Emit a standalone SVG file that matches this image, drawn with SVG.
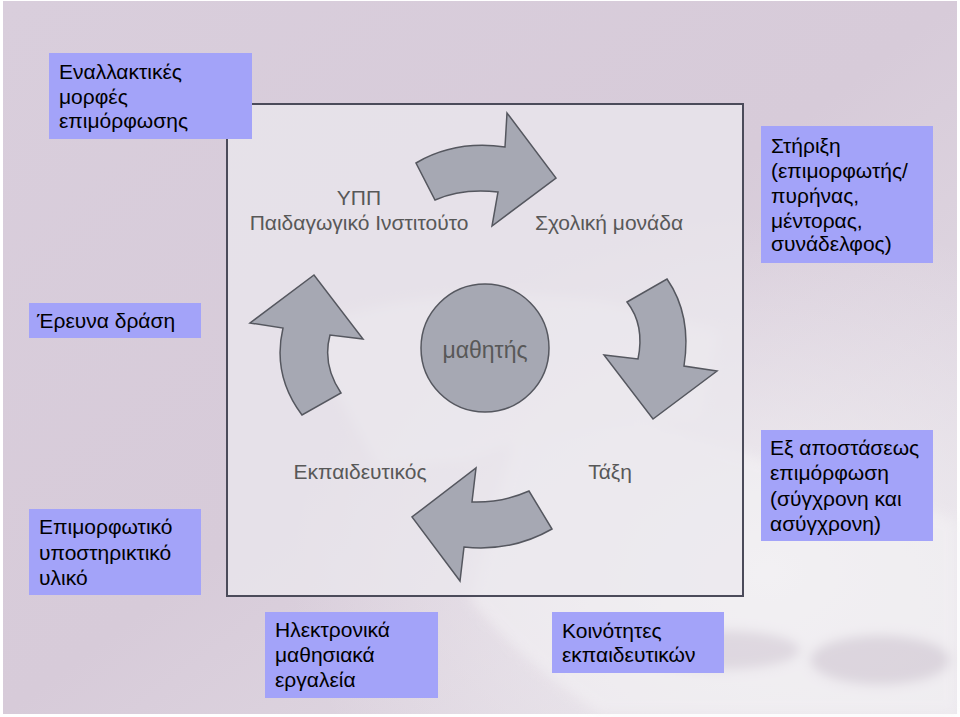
<svg xmlns="http://www.w3.org/2000/svg" width="960" height="717" viewBox="0 0 960 717">
<defs>
<linearGradient id="bg" x1="0" y1="0" x2="1" y2="1">
<stop offset="0" stop-color="#d9cedc"/>
<stop offset="0.5" stop-color="#d7cbd9"/>
<stop offset="1" stop-color="#e6e1e8"/>
</linearGradient>
<radialGradient id="glow" cx="0.8" cy="0.8" r="0.5">
<stop offset="0" stop-color="#f2f0f3" stop-opacity="0.9"/>
<stop offset="1" stop-color="#f2f0f3" stop-opacity="0"/>
</radialGradient>
<filter id="blur" x="-20%" y="-20%" width="140%" height="140%"><feGaussianBlur stdDeviation="6"/></filter>
</defs>
<style>
.box{fill:#a3a3f9}
.bt{font-family:"Liberation Sans",Arial,sans-serif;font-size:21px;fill:#000}
.gt{font-family:"Liberation Sans",Arial,sans-serif;font-size:21px;fill:#585858;text-anchor:middle}
.arr{fill:#a6a8b3;stroke:#55575f;stroke-width:1.5;stroke-linejoin:miter}
</style>
<rect x="0" y="0" width="960" height="717" fill="#ffffff"/>
<rect x="3" y="1" width="954" height="713" fill="url(#bg)"/>
<rect x="3" y="1" width="954" height="713" fill="url(#glow)"/>
<g filter="url(#blur)" opacity="0.55">
<path d="M520,420 Q600,400 700,440 L957,520 L957,714 L600,714 Q520,660 470,600 Z" fill="#f4f3f5"/>
<path d="M300,330 Q420,280 600,300 L720,330 L700,420 Q560,420 470,460 L380,470 Z" fill="#f1eff2"/>
<ellipse cx="880" cy="660" rx="70" ry="25" fill="#cfc6d1"/>
<ellipse cx="720" cy="650" rx="80" ry="20" fill="#d3cad5"/>
</g>
<g id="frame">
<rect x="227" y="104" width="516" height="492" fill="#ebe8ee" fill-opacity="0.75" stroke="#4b4b5a" stroke-width="2"/>
</g>
<g id="connectors">
<path class="arr" d="M416,163 Q455,140 505,147 L507,113 L556,178 L492,226 L498,192 Q462,188 435,200 Z"/>
<path class="arr" d="M627,302 L667,279 Q692,315 684,366 L717,371 L653,419 L604,355 L638,359 Q645,325 627,302 Z"/>
<path class="arr" d="M552,529 Q512,552 464,547 L460,581 L412,517 L476,468 L472,502 Q502,503 529,491 Z"/>
<path class="arr" d="M302,415 Q272,375 283,328 L250,323 L314,275 L363,339 L330,335 Q322,365 341,393 Z"/>
</g>
<g id="student">
<circle cx="485" cy="348" r="64" fill="#a6a8b3" stroke="#55575f" stroke-width="1.5"/>
<text class="gt" x="485" y="358" style="font-size:23px">μαθητής</text>
</g>
<g id="ypp">
<text class="gt" x="359" y="205">ΥΠΠ</text>
<text class="gt" x="359" y="230">Παιδαγωγικό Ινστιτούτο</text>
</g>
<g id="school"><text class="gt" x="609" y="230">Σχολική μονάδα</text></g>
<g id="teacher"><text class="gt" x="360" y="479">Εκπαιδευτικός</text></g>
<g id="class"><text class="gt" x="610" y="479">Τάξη</text></g>
<g id="alt-forms">
<rect class="box" x="49" y="53" width="203" height="86"/>
<text class="bt" x="59" y="79">Εναλλακτικές</text>
<text class="bt" x="59" y="104">μορφές</text>
<text class="bt" x="59" y="128">επιμόρφωσης</text>
</g>
<g id="action-research">
<rect class="box" x="29" y="303" width="172" height="35"/>
<text class="bt" x="37" y="328">Έρευνα δράση</text>
</g>
<g id="support">
<rect class="box" x="761" y="126" width="172" height="137"/>
<text class="bt" x="771" y="153">Στήριξη</text>
<text class="bt" x="771" y="178">(επιμορφωτής/</text>
<text class="bt" x="771" y="203">πυρήνας,</text>
<text class="bt" x="771" y="228">μέντορας,</text>
<text class="bt" x="771" y="251">συνάδελφος)</text>
</g>
<g id="material">
<rect class="box" x="29" y="509" width="172" height="86"/>
<text class="bt" x="39" y="534">Επιμορφωτικό</text>
<text class="bt" x="39" y="560">υποστηρικτικό</text>
<text class="bt" x="39" y="585">υλικό</text>
</g>
<g id="distance">
<rect class="box" x="761" y="430" width="172" height="111"/>
<text class="bt" x="770" y="455">Εξ αποστάσεως</text>
<text class="bt" x="770" y="480">επιμόρφωση</text>
<text class="bt" x="770" y="506">(σύγχρονη και</text>
<text class="bt" x="770" y="531">ασύγχρονη)</text>
</g>
<g id="elearning">
<rect class="box" x="265" y="612" width="173" height="86"/>
<text class="bt" x="275" y="637">Ηλεκτρονικά</text>
<text class="bt" x="275" y="662">μαθησιακά</text>
<text class="bt" x="275" y="687">εργαλεία</text>
</g>
<g id="communities">
<rect class="box" x="552" y="612" width="172" height="61"/>
<text class="bt" x="562" y="638">Κοινότητες</text>
<text class="bt" x="562" y="662">εκπαιδευτικών</text>
</g>
</svg>
